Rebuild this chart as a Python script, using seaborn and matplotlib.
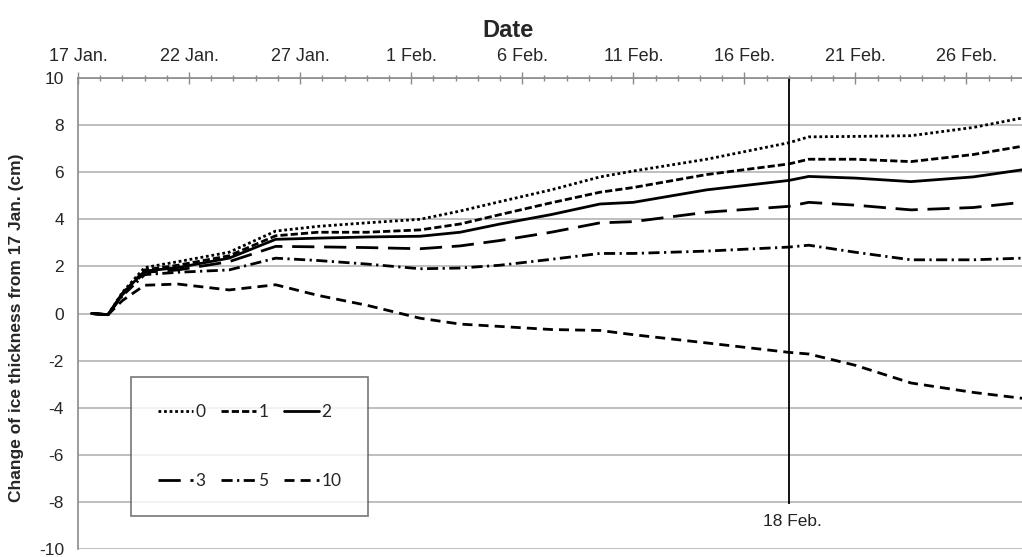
import matplotlib
matplotlib.use("Agg")
import matplotlib.pyplot as plt
import seaborn as sns
from matplotlib.ticker import MultipleLocator

# days since 17 Jan.
days = [0.6, 1.35, 2.0, 3.0, 4.5, 6.8, 8.9, 10.8, 13.0, 15.4, 17.2, 19.0,
        21.3, 23.5, 25.0, 28.3, 32.0, 32.9, 35.0, 37.5, 40.3, 42.5]

# change of ice thickness (cm) for each case
ice_0 = [0, -0.05, 0.9, 1.95, 2.2, 2.6, 3.5, 3.7, 3.85, 4.0, 4.35, 4.75,
         5.25, 5.8, 6.05, 6.55, 7.25, 7.5, 7.52, 7.55, 7.9, 8.3]
ice_1 = [0, -0.05, 0.85, 1.85, 2.05, 2.45, 3.3, 3.45, 3.45, 3.55, 3.8, 4.2,
         4.7, 5.15, 5.35, 5.9, 6.35, 6.55, 6.55, 6.45, 6.75, 7.1]
ice_2 = [0, -0.05, 0.85, 1.8, 1.95, 2.35, 3.15, 3.2, 3.25, 3.28, 3.45, 3.8,
         4.2, 4.65, 4.72, 5.25, 5.65, 5.82, 5.75, 5.6, 5.8, 6.1]
ice_3 = [0, -0.05, 0.8, 1.75, 1.85, 2.2, 2.85, 2.83, 2.8, 2.75, 2.87, 3.1,
         3.45, 3.85, 3.9, 4.3, 4.55, 4.72, 4.6, 4.4, 4.5, 4.72]
ice_5 = [0, -0.05, 0.75, 1.65, 1.75, 1.85, 2.35, 2.25, 2.1, 1.9, 1.93, 2.05,
         2.3, 2.55, 2.55, 2.65, 2.82, 2.9, 2.6, 2.28, 2.28, 2.35]
ice_10 = [0, -0.05, 0.55, 1.2, 1.25, 1.0, 1.22, 0.77, 0.35, -0.2, -0.45, -0.55,
          -0.68, -0.72, -0.9, -1.25, -1.65, -1.72, -2.2, -2.95, -3.35, -3.6]

series_names = ["0", "1", "2", "3", "5", "10"]
tick_days = [0, 5, 10, 15, 20, 25, 30, 35, 40]
tick_labels = ["17 Jan.", "22 Jan.", "27 Jan.", "1 Feb.", "6 Feb.",
               "11 Feb.", "16 Feb.", "21 Feb.", "26 Feb."]
marker_day = 32
marker_label = "18 Feb."

sns.set_theme(style="white")
plt.rcParams["font.family"] = ["Liberation Sans", "DejaVu Sans"]
plt.rcParams["axes.unicode_minus"] = False

fig = plt.figure(figsize=(10.22, 5.57), dpi=100)
ax = fig.add_axes([78 / 1022, 8 / 557, 944 / 1022, 471 / 557])

dash_styles = [(0, (1, 1)), (0, (2.6, 1.1)), "-", (0, (8, 3.5)),
               (0, (4, 1.6, 0.8, 1.6)), (0, (3.6, 2.2))]
all_series = [ice_0, ice_1, ice_2, ice_3, ice_5, ice_10]

for name, vals, ls in zip(series_names, all_series, dash_styles):
    sns.lineplot(x=days, y=vals, ax=ax, color="black", lw=2.0,
                 linestyle=ls, label=name)

# reference date marker
ax.vlines(marker_day, -8.1, 10, color="black", lw=1.3)
ax.text(marker_day + 0.15, -8.85, marker_label, ha="center", va="center",
        fontsize=12.5, color="#222222")

ax.set_xlim(0, 42.5)
ax.set_ylim(-10, 10)
ax.set_yticks(range(-10, 11, 2))
ax.yaxis.grid(True, color="#b4b4b4", lw=1.2)
ax.xaxis.grid(False)

ax.xaxis.tick_top()
ax.xaxis.set_label_position("top")
ax.set_xticks(tick_days, tick_labels)
ax.xaxis.set_minor_locator(MultipleLocator(1))
ax.tick_params(axis="x", which="major", direction="inout", length=9,
               width=1, color="#8a8a8a", labelsize=13, pad=5)
ax.tick_params(axis="x", which="minor", direction="inout", length=4,
               width=1, color="#8a8a8a")
ax.tick_params(axis="y", direction="out", length=6, width=1,
               color="#8a8a8a", labelsize=12.5, pad=4)

for side in ["right", "bottom"]:
    ax.spines[side].set_visible(False)
for side in ["left", "top"]:
    ax.spines[side].set_color("#8a8a8a")
    ax.spines[side].set_linewidth(1.2)

ax.set_xlabel("Date", fontsize=17, fontweight="bold")
ax.xaxis.set_label_coords(0.455, 1.088)
ax.set_ylabel("Change of ice thickness from 17 Jan. (cm)", fontsize=12.5,
              fontweight="bold")
ax.yaxis.set_label_coords(-0.057, 0.47)

# legend filled row by row like the original
handles, labels = ax.get_legend_handles_labels()
order = [0, 3, 1, 4, 2, 5]
leg = ax.legend([handles[i] for i in order], [labels[i] for i in order],
                ncol=3, loc="upper left", bbox_to_anchor=(0.047, 0.383),
                frameon=True, fancybox=False, edgecolor="#555555",
                handlelength=2.0, handletextpad=0.15,
                columnspacing=0.9, labelspacing=3.07, borderpad=1.55,
                prop={"family": "Lato", "size": 12.5})
leg.get_frame().set_linewidth(1.2)

fig.savefig("out.png", dpi=100)
